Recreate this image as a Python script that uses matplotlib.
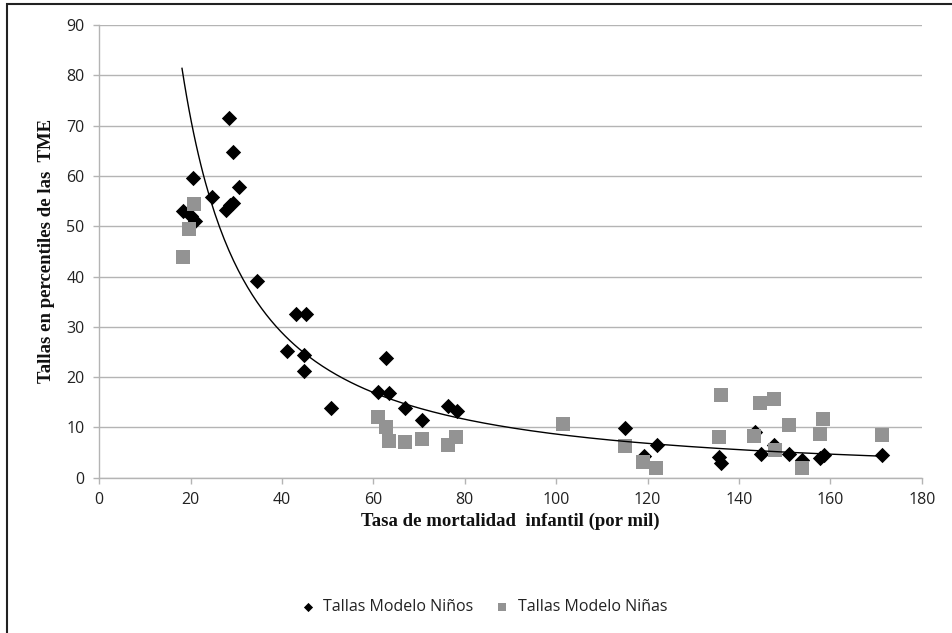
import numpy as np
import matplotlib
matplotlib.use('Agg')
import matplotlib.pyplot as plt
from matplotlib.patches import Rectangle

# Tallas Modelo Niños (tasa de mortalidad infantil, percentil)
ninos_x = [28.4, 29.3, 20.6, 30.6, 24.7, 27.8, 28.6, 29.3, 18.4, 20.0, 21.0, 34.6,
           43.0, 45.2, 41.0, 44.7, 44.7, 62.7, 50.8, 61.1, 63.3, 67.0, 70.7, 76.4, 78.2,
           115.1, 119.2, 122.1, 135.6, 136.1, 143.5, 144.8, 147.7, 151.0, 153.8,
           157.7, 158.5, 171.4]
ninos_y = [71.6, 64.7, 59.5, 57.7, 55.9, 53.2, 54.2, 54.6, 53.0, 52.0, 51.0, 39.2,
           32.5, 32.5, 25.2, 24.4, 21.3, 23.9, 13.8, 17.1, 16.9, 13.8, 11.5, 14.3, 13.3,
           9.9, 4.3, 6.6, 4.2, 3.0, 9.1, 4.8, 6.5, 4.8, 3.5,
           4.0, 4.5, 4.5]

# Tallas Modelo Niñas
ninas_x = [20.8, 19.6, 18.3, 60.9, 62.7, 63.3, 66.8, 70.6, 76.3, 78.1,
           101.5, 115.1, 119.1, 121.8, 136.0, 135.6, 144.5, 147.7, 143.3, 147.9,
           150.9, 153.8, 158.3, 157.7, 171.3]
ninas_y = [54.4, 49.4, 43.9, 12.1, 10.1, 7.4, 7.2, 7.7, 6.5, 8.0,
           10.7, 6.4, 3.2, 2.0, 16.5, 8.0, 14.9, 15.7, 8.3, 5.6,
           10.5, 1.9, 11.7, 8.7, 8.5]

# linea de tendencia potencial y = a * x^b
trend_a = 3615.0
trend_b = -1.31
trend_x0, trend_x1 = 18.1, 171.4

x_ticks = list(range(0, 181, 20))
y_ticks = list(range(0, 91, 10))

tick_font = 'Open Sans'
label_font = 'Liberation Serif'
grid_col = '#b4b4b4'
grey = '#939393'

fig = plt.figure(figsize=(9.53, 6.33), dpi=100)
ax = fig.add_axes([0.1042, 0.2453, 0.8630, 0.7152])

ax.scatter(ninos_x, ninos_y, marker='D', s=7.8 ** 2, color='black', zorder=3,
           label='Tallas Modelo Niños', linewidths=0)
ax.scatter(ninas_x, ninas_y, marker='s', s=9.6 ** 2, color=grey, zorder=4,
           label='Tallas Modelo Niñas', linewidths=0)

xx = np.linspace(trend_x0, trend_x1, 300)
ax.plot(xx, trend_a * xx ** trend_b, color='black', lw=1.0, zorder=5)

ax.set_xlim(0, 180)
ax.set_ylim(0, 90)
ax.set_xticks(x_ticks)
ax.set_yticks(y_ticks)
ax.grid(axis='y', color=grid_col, lw=1.0)
ax.set_axisbelow(True)
for s in ['top', 'right']:
    ax.spines[s].set_visible(False)
for s in ['left', 'bottom']:
    ax.spines[s].set_color(grid_col)
    ax.spines[s].set_linewidth(1.0)
ax.tick_params(colors=grid_col, length=4.5, width=1.0, labelcolor='#222222', labelsize=11.5)
for lab in ax.get_xticklabels() + ax.get_yticklabels():
    lab.set_family(tick_font)
ax.tick_params(axis='x', pad=6)
ax.tick_params(axis='y', pad=6)

ax.set_xlabel('Tasa de mortalidad  infantil (por mil)', family=label_font,
              weight='bold', size=13.5, labelpad=3, color='#111111')
ax.set_ylabel('Tallas en percentiles de las  TME', family=label_font,
              weight='bold', size=13.5, labelpad=8, color='#111111')

fig.legend(loc='center', bbox_to_anchor=(0.503, 0.041), ncol=2, frameon=False,
           prop={'family': tick_font, 'size': 11.5}, markerscale=0.6,
           handletextpad=0.0, columnspacing=0.75, labelcolor='#222222')

fig.patches.append(Rectangle((7 / 953, -0.1), 1.2, 1.1 - 4 / 633, fill=False,
                             edgecolor='#222222', lw=1.5, transform=fig.transFigure))

fig.savefig('out.png', dpi=100)
